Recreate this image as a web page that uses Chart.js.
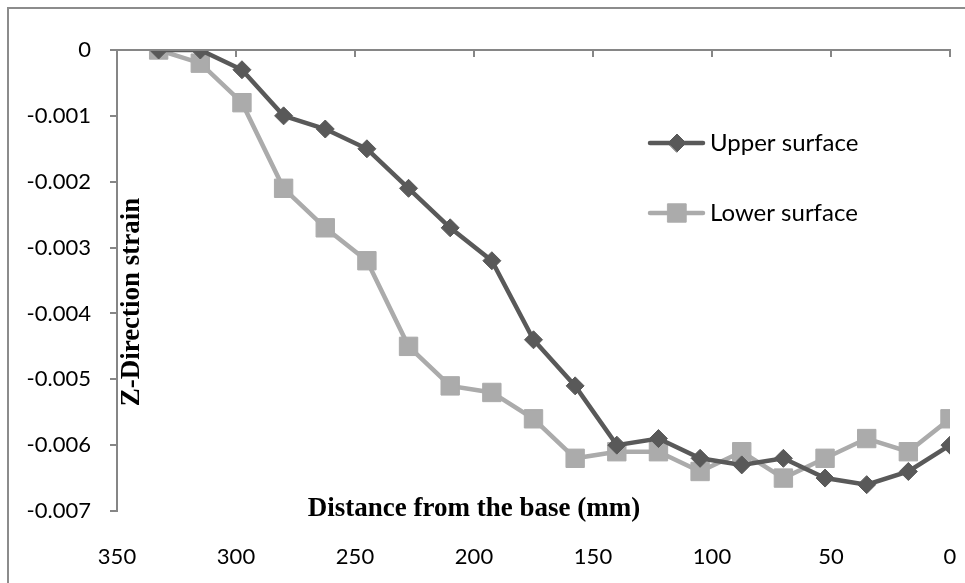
<!DOCTYPE html>
<html><head><meta charset="utf-8">
<script src="https://cdn.jsdelivr.net/npm/chart.js@4.4.0/dist/chart.umd.min.js"></script>
<style>
html,body{margin:0;padding:0;background:#fff;}
#wrap{position:relative;width:965px;height:583px;overflow:hidden;background:#fff;}
#frame{position:absolute;left:7px;top:7px;width:1000px;height:1000px;border-left:2px solid #8c8c8c;border-top:2px solid #8c8c8c;}
canvas{position:absolute;left:0;top:0;}
</style></head><body>
<div id="wrap"><div id="frame"></div><canvas id="c" width="965" height="583"></canvas></div>
<script>
const distances = [332.5, 315, 297.5, 280, 262.5, 245, 227.5, 210, 192.5, 175, 157.5, 140, 122.5, 105, 87.5, 70, 52.5, 35, 17.5, 0];
const upperSurface = [0, 0, -0.0003, -0.001, -0.0012, -0.0015, -0.0021, -0.0027, -0.0032, -0.0044, -0.0051, -0.006, -0.0059, -0.0062, -0.0063, -0.0062, -0.0065, -0.0066, -0.0064, -0.006];
const lowerSurface = [0, -0.0002, -0.0008, -0.0021, -0.0027, -0.0032, -0.0045, -0.0051, -0.0052, -0.0056, -0.0062, -0.0061, -0.0061, -0.0064, -0.0061, -0.0065, -0.0062, -0.0059, -0.0061, -0.0056];
const seriesNames = ['Upper surface', 'Lower surface'];
const xTitle = 'Distance from the base (mm)';
const yTitle = 'Z-Direction strain';

const AXIS = '#868686';
const tickFont = {family: 'Lato', size: 22};

function pts(vals){ return distances.map((d,i)=>({x:d, y:vals[i]})); }

const overlay = {
  id: 'overlay',
  afterDraw(chart){
    const ctx = chart.ctx, ca = chart.chartArea, xs = chart.scales.x;
    ctx.save();
    // horizontal axis line crossing at y = 0, tick marks pointing down
    ctx.strokeStyle = AXIS; ctx.lineWidth = 2;
    const y0 = chart.scales.y.getPixelForValue(0);
    ctx.beginPath(); ctx.moveTo(ca.left, y0); ctx.lineTo(ca.right + 1, y0); ctx.stroke();
    xs.ticks.forEach(t=>{
      const px = Math.round(xs.getPixelForValue(t.value));
      ctx.beginPath(); ctx.moveTo(px, y0); ctx.lineTo(px, y0+7); ctx.stroke();
    });
    // axis titles
    ctx.fillStyle = '#000';
    ctx.font = 'bold 27px "Liberation Serif"';
    ctx.textAlign = 'center'; ctx.textBaseline = 'middle';
    ctx.fillText(xTitle, 474, 509);
    ctx.translate(132, 302); ctx.rotate(-Math.PI/2);
    ctx.fillText(yTitle, 0, 0);
    ctx.restore();
    // legend
    ctx.save();
    const rows = [143, 213];
    chart.data.datasets.forEach((ds, i)=>{
      const y = rows[i];
      ctx.strokeStyle = ds.borderColor; ctx.lineWidth = ds.borderWidth; ctx.lineCap='round';
      ctx.beginPath(); ctx.moveTo(650, y); ctx.lineTo(703, y); ctx.stroke();
      ctx.fillStyle = ds.pointBackgroundColor; ctx.strokeStyle = ds.pointBorderColor; ctx.lineWidth = 1;
      Chart.helpers.drawPoint(ctx, {pointStyle: ds.pointStyle, rotation: 0, borderWidth: 1, radius: ds.pointRadius}, 677, y);
      ctx.fillStyle = '#000'; ctx.font = '24px Lato'; ctx.textAlign='left'; ctx.textBaseline='middle';
      ctx.fillText(ds.label, 710, y);
    });
    ctx.restore();
  }
};

new Chart(document.getElementById('c'), {
  type: 'line',
  data: {
    datasets: [
      {label: seriesNames[0], data: pts(upperSurface), borderColor: '#595959', backgroundColor: '#595959',
       pointBackgroundColor: '#595959', pointBorderColor: '#595959', borderWidth: 4.5,
       pointStyle: 'rectRot', pointRadius: 9, pointBorderWidth: 1, tension: 0},
      {label: seriesNames[1], data: pts(lowerSurface), borderColor: '#ababab', backgroundColor: '#ababab',
       pointBackgroundColor: '#ababab', pointBorderColor: '#ababab', borderWidth: 4.5,
       pointStyle: 'rect', pointRadius: 13, pointBorderWidth: 1, tension: 0}
    ]
  },
  options: {
    responsive: false, animation: false, devicePixelRatio: 1,
    layout: {padding: {left: 0, top: 50, right: 15, bottom: 0}},
    plugins: {legend: {display: false}, tooltip: {enabled: false}},
    scales: {
      x: {type: 'linear', position: 'bottom', reverse: true, min: 0, max: 350,
          ticks: {stepSize: 50, color: '#000', font: tickFont, padding: 25, maxRotation: 0},
          grid: {display: false}, border: {display: false},
          afterFit(s){ s.height = 72; s.paddingLeft = 0; s.paddingRight = 0; }},
      y: {type: 'linear', position: 'left', min: -0.007, max: 0,
          ticks: {stepSize: 0.001, color: '#000', font: tickFont, padding: 19,
                  callback: v => Number(v.toFixed(3)).toString()},
          grid: {drawOnChartArea: false, drawTicks: true, tickLength: 7, color: AXIS, lineWidth: 2},
          border: {display: true, color: AXIS, width: 2},
          afterFit(s){ s.width = 117; s.paddingTop = 0; s.paddingBottom = 0; }}
    }
  },
  plugins: [overlay]
});
</script>
</body></html>
